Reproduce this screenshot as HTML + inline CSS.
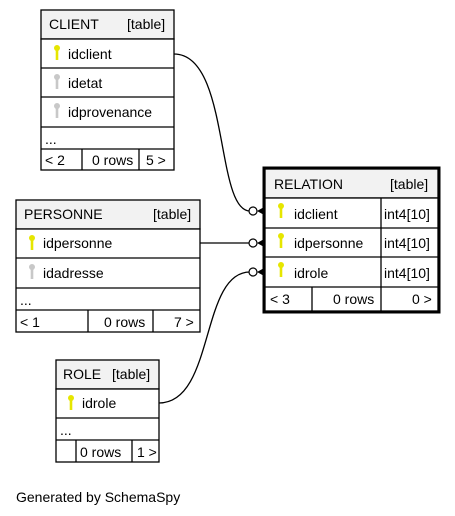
<!DOCTYPE html>
<html><head><style>body{margin:0;background:#fff}svg{display:block}text{font-family:"Liberation Sans",Arial,sans-serif;font-size:14px;fill:#000}</style></head><body>
<svg width="455" height="516" viewBox="0 0 455 516" xmlns="http://www.w3.org/2000/svg">
<defs>
<g id="key"><circle cx="0" cy="-4" r="3"/><rect x="-1.3" y="-2" width="2.6" height="10"/></g>
</defs>
<g fill="none" stroke="#000" stroke-width="1.3">
<path d="M174,54 C230,54 215,211 250,211"/>
<path d="M200,243 L250,243"/>
<path d="M159,403 C215,403 200,272 250,272"/>
</g>
<g stroke="#000" fill="#fff" stroke-width="1.2">
<circle cx="253" cy="211" r="4"/><circle cx="253" cy="243" r="4"/><circle cx="253" cy="272" r="4"/>
</g>
<g fill="#000">
<polygon points="257,211 266,206 266,216"/><polygon points="257,243 266,238 266,248"/><polygon points="257,272 266,267 266,277"/>
</g>
<!-- CLIENT -->
<g stroke="#000" stroke-width="1.3">
<rect x="41" y="10" width="133" height="29" fill="#f2f2f2"/>
<rect x="41" y="39" width="133" height="131" fill="#fff"/>
<line x1="41" y1="68" x2="174" y2="68"/><line x1="41" y1="97" x2="174" y2="97"/><line x1="41" y1="127" x2="174" y2="127"/><line x1="41" y1="149" x2="174" y2="149"/>
<line x1="82" y1="149" x2="82" y2="170"/><line x1="139" y1="149" x2="139" y2="170"/>
</g>
<use href="#key" x="57" y="52" fill="#e6e600"/><use href="#key" x="57" y="81" fill="#c8c8c8"/><use href="#key" x="57" y="110" fill="#c8c8c8"/>
<text x="49" y="29">CLIENT</text><text x="127" y="29">[table]</text>
<text x="68" y="59">idclient</text><text x="68" y="88">idetat</text><text x="68" y="117">idprovenance</text>
<text x="45" y="144">...</text><text x="45" y="165">&lt; 2</text><text x="92" y="165">0 rows</text><text x="146" y="165">5 &gt;</text>
<!-- PERSONNE -->
<g stroke="#000" stroke-width="1.3">
<rect x="16" y="200" width="184" height="29" fill="#f2f2f2"/>
<rect x="16" y="229" width="184" height="103" fill="#fff"/>
<line x1="16" y1="258" x2="200" y2="258"/><line x1="16" y1="288" x2="200" y2="288"/><line x1="16" y1="310" x2="200" y2="310"/>
<line x1="88" y1="310" x2="88" y2="332"/><line x1="153" y1="310" x2="153" y2="332"/>
</g>
<use href="#key" x="32" y="242" fill="#e6e600"/><use href="#key" x="32" y="271" fill="#c8c8c8"/>
<text x="24" y="219">PERSONNE</text><text x="153" y="219">[table]</text>
<text x="43" y="248">idpersonne</text><text x="43" y="278">idadresse</text>
<text x="20" y="305">...</text><text x="20" y="327">&lt; 1</text><text x="104" y="327">0 rows</text><text x="174" y="327">7 &gt;</text>
<!-- ROLE -->
<g stroke="#000" stroke-width="1.3">
<rect x="56" y="360" width="103" height="29" fill="#f2f2f2"/>
<rect x="56" y="389" width="103" height="73" fill="#fff"/>
<line x1="56" y1="418" x2="159" y2="418"/><line x1="56" y1="440" x2="159" y2="440"/>
<line x1="76" y1="440" x2="76" y2="462"/><line x1="132" y1="440" x2="132" y2="462"/>
</g>
<use href="#key" x="71" y="402" fill="#e6e600"/>
<text x="63" y="379">ROLE</text><text x="112" y="379">[table]</text>
<text x="82" y="408">idrole</text>
<text x="60" y="435">...</text><text x="80" y="457">0 rows</text><text x="137" y="457">1 &gt;</text>
<!-- RELATION -->
<g stroke="#000" stroke-width="1.3">
<rect x="265" y="169" width="173" height="29" fill="#f2f2f2"/>
<rect x="265" y="198" width="173" height="113" fill="#fff"/>
<line x1="265" y1="228" x2="438" y2="228"/><line x1="265" y1="257" x2="438" y2="257"/><line x1="265" y1="287" x2="438" y2="287"/>
<line x1="381" y1="198" x2="381" y2="287"/>
<line x1="312" y1="287" x2="312" y2="311"/><line x1="381" y1="287" x2="381" y2="311"/>
</g>
<rect x="264" y="168" width="175" height="144" fill="none" stroke="#000" stroke-width="3"/>
<use href="#key" x="281" y="210" fill="#e6e600"/><use href="#key" x="281" y="240" fill="#e6e600"/><use href="#key" x="281" y="269" fill="#e6e600"/>
<text x="274" y="189">RELATION</text><text x="390" y="189">[table]</text>
<text x="294" y="219">idclient</text><text x="384" y="219">int4[10]</text>
<text x="294" y="248">idpersonne</text><text x="384" y="248">int4[10]</text>
<text x="294" y="278">idrole</text><text x="384" y="278">int4[10]</text>
<text x="270" y="304">&lt; 3</text><text x="333" y="304">0 rows</text><text x="412" y="304">0 &gt;</text>
<text x="16" y="502">Generated by SchemaSpy</text>
</svg>
</body></html>
